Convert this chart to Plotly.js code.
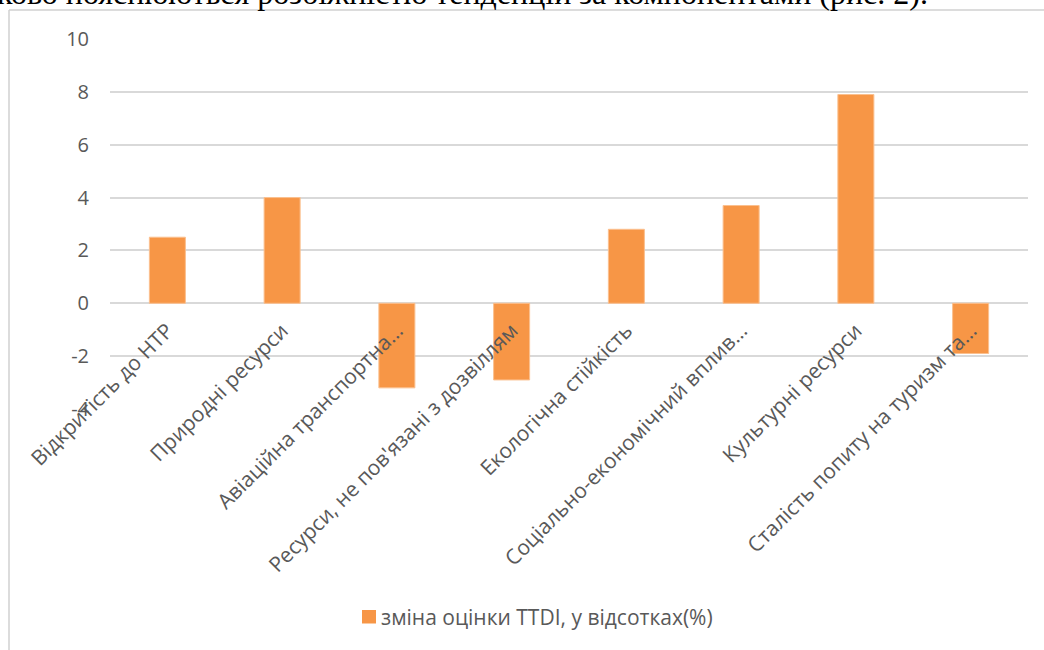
<!DOCTYPE html>
<html>
<head>
<meta charset="utf-8">
<script src="https://cdn.plot.ly/plotly-3.0.1.min.js"></script>
<style>
  html, body { margin: 0; padding: 0; background: #fff; overflow: hidden; }
  #wrap { position: relative; width: 1044px; height: 650px; overflow: hidden; }
  #chart { position: absolute; left: 0; top: 0; width: 1044px; height: 650px; }
  #lead { position: absolute; left: -3px; top: -24px; white-space: nowrap; line-height: 1.107;
          font-family: "Liberation Serif", "DejaVu Serif", serif; font-size: 32px;
          color: #000; z-index: 5; }
</style>
</head>
<body>
<div id="wrap">
  <div id="lead">ково пояснюються розбіжністю тенденцій за компонентами (рис. 2).</div>
  <div id="chart"></div>
</div>
<script>
// Pillars of the TTDI index
const categories = [
  "Відкритість до НТР",
  "Природні ресурси",
  "Авіаційна транспортна…",
  "Ресурси, не пов'язані з дозвіллям",
  "Екологічна стійкість",
  "Соціально-економічний вплив…",
  "Культурні ресурси",
  "Сталість попиту на туризм та…"
];
// Change of the TTDI score, percent
const changePct = [2.5, 4.0, -3.2, -2.9, 2.8, 3.7, 7.9, -1.9];
const seriesName = "зміна оцінки TTDI, у відсотках(%)";
const yTicks = [-4, -2, 0, 2, 4, 6, 8, 10];

const W = 1044, H = 650;
const M = { l: 110, r: 16, t: 39, b: 241 };
const plotW = W - M.l - M.r, plotH = H - M.t - M.b;
const px = x => (x - M.l) / plotW;
const py = y => (H - M.b - y) / plotH;

const yMin = -4, yMax = 10;
const zeroFrac = (0 - yMin) / (yMax - yMin);

const grey = "#595959";
const gridC = "#d9d9d9";
const barC = "#f79646";

const trace = {
  type: "bar",
  x: categories,
  y: changePct,
  name: seriesName,
  marker: { color: barC, line: { color: "#fbc08f", width: 1 } },
  hoverinfo: "x+y",
  showlegend: false
};

const layout = {
  width: W, height: H,
  margin: M,
  paper_bgcolor: "#fff",
  plot_bgcolor: "#fff",
  font: { family: "Open Sans, Noto Sans, sans-serif", size: 20, color: grey },
  bargap: 0.686,
  showlegend: false,
  xaxis: {
    type: "category",
    anchor: "free",
    position: zeroFrac,
    showgrid: false,
    showline: false,
    zeroline: false,
    ticks: "",
    tickangle: -45,
    ticklabelstandoff: 10,
    tickfont: { size: 21, color: grey },
    fixedrange: true
  },
  yaxis: {
    range: [yMin, yMax],
    tickvals: yTicks,
    ticktext: yTicks.map(String),
    showgrid: true,
    gridcolor: gridC,
    gridwidth: 1.5,
    zeroline: true,
    zerolinecolor: gridC,
    zerolinewidth: 1.5,
    showline: false,
    ticks: "",
    ticklabelstandoff: 20,
    tickfont: { size: 20, color: grey },
    fixedrange: true
  },
  shapes: [
    // chart frame (top and left edges)
    { type: "line", xref: "paper", yref: "paper",
      x0: px(9), y0: py(10), x1: px(1050), y1: py(10),
      line: { color: "#d0d0d0", width: 1.5 } },
    { type: "line", xref: "paper", yref: "paper",
      x0: px(9), y0: py(10), x1: px(9), y1: py(660),
      line: { color: "#d0d0d0", width: 1.5 } },
    // legend key
    { type: "rect", xref: "paper", yref: "paper",
      x0: px(362), x1: px(376), y0: py(623.5), y1: py(610),
      fillcolor: barC, line: { width: 0 } }
  ],
  annotations: [
    { xref: "paper", yref: "paper", x: px(379), y: py(617),
      xanchor: "left", yanchor: "middle", showarrow: false,
      text: seriesName, font: { size: 21, color: grey } }
  ]
};

Plotly.newPlot("chart", [trace], layout, { displayModeBar: false });
</script>
</body>
</html>
